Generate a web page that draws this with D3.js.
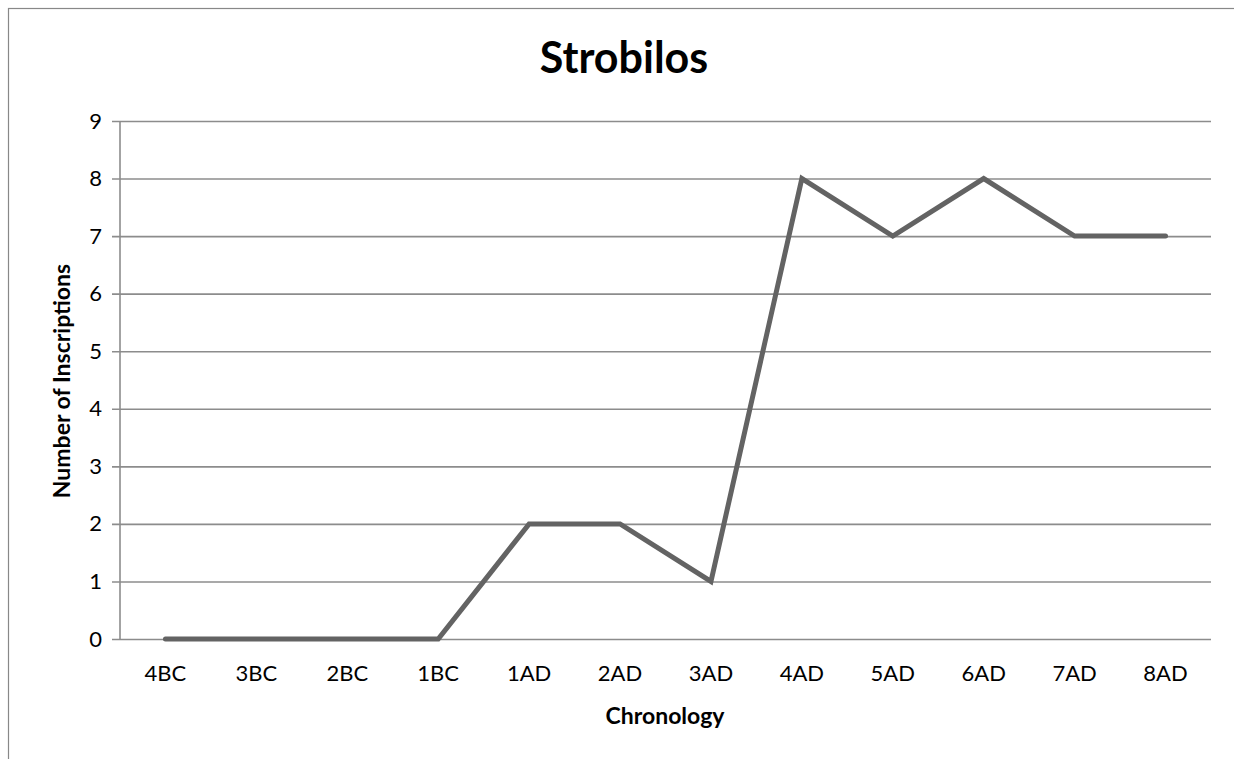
<!DOCTYPE html>
<html><head><meta charset="utf-8">
<script src="https://cdn.jsdelivr.net/npm/d3@7"></script>
<style>body{margin:0;background:#fff;} svg{display:block;font-family:Lato, "Open Sans", sans-serif;}</style>
</head><body>
<svg id="c" width="1234" height="759"></svg>
<script>
const categories = ["4BC","3BC","2BC","1BC","1AD","2AD","3AD","4AD","5AD","6AD","7AD","8AD"];
const inscriptions = [0,0,0,0,2,2,1,8,7,8,7,7];
const yTicks = [0,1,2,3,4,5,6,7,8,9];
const chartTitle = "Strobilos";
const xTitle = "Chronology";
const yTitle = "Number of Inscriptions";

const svg = d3.select("#c");
const m = {left:120, right:1211, top:121, bottom:639};

// outer frame
svg.append("rect").attr("x",8.5).attr("y",8.5).attr("width",1240).attr("height",800)
  .attr("fill","none").attr("stroke","#888").attr("stroke-width",1.2);

const x = d3.scaleBand().domain(categories).range([m.left,m.right]);
const y = d3.scaleLinear().domain([0,9]).range([m.bottom,m.top]);

// grid + y axis
const yAxis = d3.axisLeft(y).tickValues(yTicks).tickSize(-(m.right-m.left)).tickPadding(18).tickFormat(d3.format("d"));
const gy = svg.append("g").attr("transform",`translate(${m.left},0)`).call(yAxis);
gy.select(".domain").remove();
gy.selectAll(".tick line").attr("stroke","#8c8c8c").attr("stroke-width",1.6).attr("x1",-8);
gy.selectAll(".tick text").attr("font-size",22).attr("fill","#000").attr("font-family","Lato");

// vertical axis line
svg.append("line").attr("x1",m.left).attr("x2",m.left).attr("y1",m.top).attr("y2",m.bottom)
  .attr("stroke","#8c8c8c").attr("stroke-width",1.6);

// x axis labels
const xAxis = d3.axisBottom(x).tickSize(0).tickPadding(26);
const gx = svg.append("g").attr("transform",`translate(0,${m.bottom})`).call(xAxis);
gx.select(".domain").remove();
gx.selectAll(".tick text").attr("font-size",22).attr("fill","#000").attr("font-family","Lato");

// line
const line = d3.line().x((d,i)=>x(categories[i])+x.bandwidth()/2).y(d=>y(d));
svg.append("path").datum(inscriptions).attr("d",line).attr("fill","none")
  .attr("stroke","#636363").attr("stroke-width",5).attr("stroke-linejoin","miter").attr("stroke-linecap","round");

// titles
svg.append("text").attr("x",624).attr("y",73).attr("text-anchor","middle")
  .attr("font-size",43).attr("font-weight","bold").text(chartTitle);
svg.append("text").attr("x",665).attr("y",724).attr("text-anchor","middle")
  .attr("font-size",23).attr("font-weight","bold").text(xTitle);
svg.append("text").attr("transform","translate(70,381) rotate(-90)").attr("text-anchor","middle")
  .attr("font-size",23).attr("font-weight","bold").text(yTitle);
</script>
</body></html>
